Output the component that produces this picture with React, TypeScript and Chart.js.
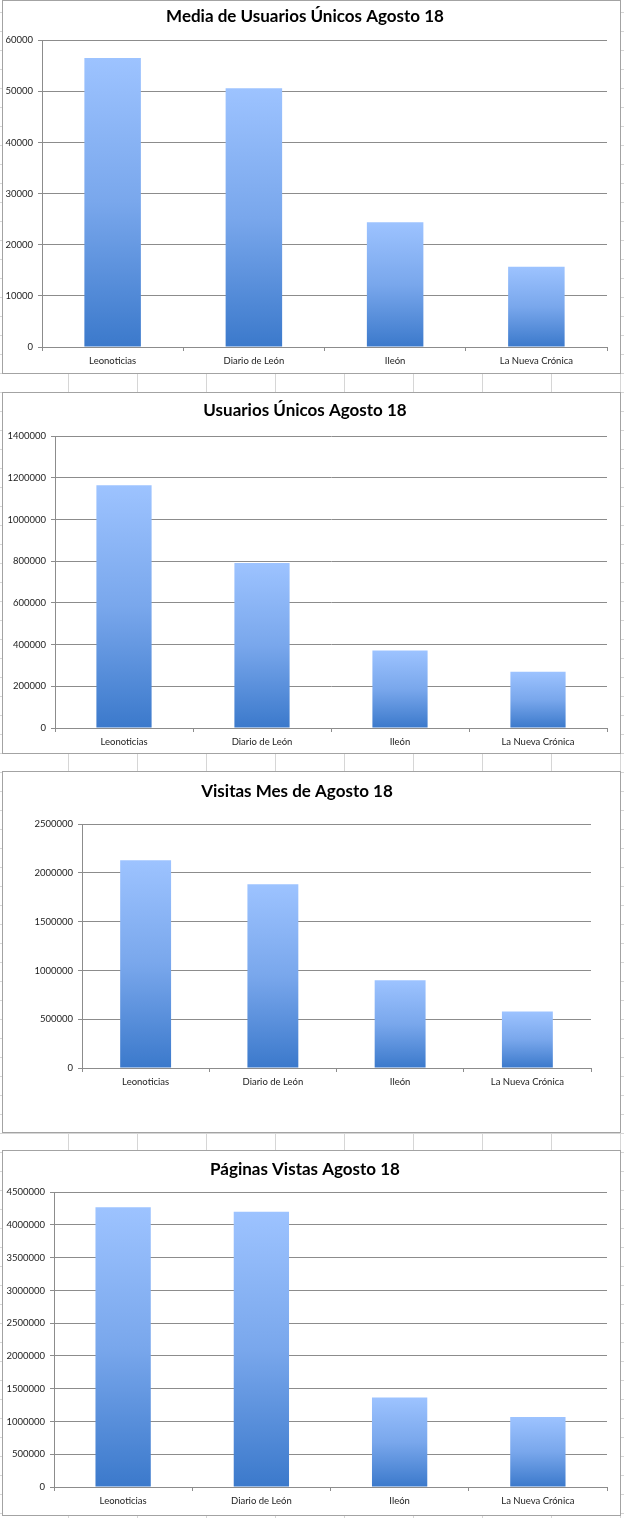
import React, { useEffect, useRef } from "react";
import { Chart, registerables } from "chart.js";

Chart.register(...registerables);

// ---------- data ----------
const categories = ["Leonoticias", "Diario de León", "Ileón", "La Nueva Crónica"];

const chartTitles = [
  "Media de Usuarios Únicos Agosto 18",
  "Usuarios Únicos Agosto 18",
  "Visitas Mes de Agosto 18",
  "Páginas Vistas Agosto 18",
];

const mediaUsuariosUnicos = [56500, 50600, 24400, 15700];
const usuariosUnicos = [1165000, 792000, 372000, 270000];
const visitasMes = [2130000, 1885000, 900000, 580000];
const paginasVistas = [4270000, 4200000, 1365000, 1070000];

const yAxisMax = [60000, 1400000, 2500000, 4500000];
const yAxisStep = [10000, 200000, 500000, 500000];

const seriesList = [mediaUsuariosUnicos, usuariosUnicos, visitasMes, paginasVistas];

// ---------- layout ----------
type Frame = {
  top: number;
  height: number;
  axisW: number;
  titlePadTop: number;
  titlePadBottom: number;
  padRight: number;
  xAxisH: number;
};

const frames: Frame[] = [
  { top: 0, height: 374, axisW: 39, titlePadTop: 5.4, titlePadBottom: 13.4, padRight: 13, xAxisH: 26 },
  { top: 392, height: 362, axisW: 52, titlePadTop: 7.4, titlePadBottom: 15.4, padRight: 13, xAxisH: 25 },
  { top: 771, height: 362, axisW: 79, titlePadTop: 9.4, titlePadBottom: 22.4, padRight: 29, xAxisH: 64 },
  { top: 1150, height: 366, axisW: 51, titlePadTop: 8.4, titlePadBottom: 12.4, padRight: 13, xAxisH: 28 },
];

const BOX_LEFT = 2;
const BOX_WIDTH = 619;
const FONT = "Lato, 'Open Sans', sans-serif";
const GRID = "#8c8c8c";

function BarBox({ index }: { index: number }) {
  const ref = useRef<HTMLCanvasElement | null>(null);
  const f = frames[index];
  const w = BOX_WIDTH - 2;
  const h = f.height - 2;

  useEffect(() => {
    if (!ref.current) return;
    const chart = new Chart(ref.current, {
      type: "bar",
      data: {
        labels: categories,
        datasets: [
          {
            data: seriesList[index],
            borderWidth: 0,
            barPercentage: 0.4,
            categoryPercentage: 1,
            backgroundColor: (ctx: any) => {
              const c = ctx.chart;
              if (!c.chartArea || ctx.type !== "data") return "#6f9fe6";
              const ys = c.scales.y;
              const v = ctx.parsed ? ctx.parsed.y : 0;
              const top = ys.getPixelForValue(v);
              const bottom = ys.getPixelForValue(0);
              const g = c.ctx.createLinearGradient(0, top, 0, bottom);
              g.addColorStop(0, "#9dc3ff");
              g.addColorStop(0.5, "#79a7ec");
              g.addColorStop(1, "#3b79cb");
              return g;
            },
          },
        ],
      },
      options: {
        responsive: false,
        animation: false,
        devicePixelRatio: 1,
        layout: { padding: { top: 0, left: 0, right: f.padRight, bottom: 0 } },
        plugins: {
          legend: { display: false },
          tooltip: { enabled: false },
          title: {
            display: true,
            text: chartTitles[index],
            color: "#000",
            font: { family: FONT, size: 17, weight: "bold", lineHeight: 1.2 },
            padding: { top: f.titlePadTop, bottom: f.titlePadBottom },
          },
        },
        scales: {
          x: {
            afterFit: (s: any) => {
              s.height = f.xAxisH;
            },
            grid: {
              offset: true,
              drawOnChartArea: false,
              drawTicks: true,
              tickLength: 4,
              color: GRID,
            },
            border: { display: true, color: GRID },
            ticks: {
              color: "#222",
              padding: 4,
              font: { family: FONT, size: 9.5 },
              maxRotation: 0,
              autoSkip: false,
            },
          },
          y: {
            min: 0,
            max: yAxisMax[index],
            afterFit: (s: any) => {
              s.width = f.axisW;
            },
            grid: { color: GRID, tickLength: 4, drawTicks: true },
            border: { display: true, color: GRID },
            ticks: {
              stepSize: yAxisStep[index],
              color: "#222",
              padding: 5,
              font: { family: FONT, size: 9.5 },
              callback: (v: any) => String(v),
            },
          },
        },
      },
    } as any);
    return () => chart.destroy();
  }, [index]);

  return (
    <div
      style={{
        position: "absolute",
        left: BOX_LEFT,
        top: f.top,
        width: BOX_WIDTH,
        height: f.height,
        border: "1px solid #a3a3a3",
        boxSizing: "border-box",
        background: "#fff",
      }}
    >
      <canvas ref={ref} width={w} height={h} style={{ display: "block", width: w, height: h }} />
    </div>
  );
}

export default function App() {
  return (
    <div
      style={{
        position: "absolute",
        left: 0,
        top: 0,
        width: 624,
        height: 1518,
        overflow: "hidden",
        backgroundColor: "#fff",
        backgroundImage:
          "repeating-linear-gradient(to right, transparent 0px, transparent 68px, #d6d6d6 68px, #d6d6d6 69px), repeating-linear-gradient(to bottom, transparent 0px, transparent 12px, #d6d6d6 12px, #d6d6d6 13px, transparent 13px, transparent 19px)",
      }}
    >
      {frames.map((_, i) => (
        <BarBox key={i} index={i} />
      ))}
    </div>
  );
}
